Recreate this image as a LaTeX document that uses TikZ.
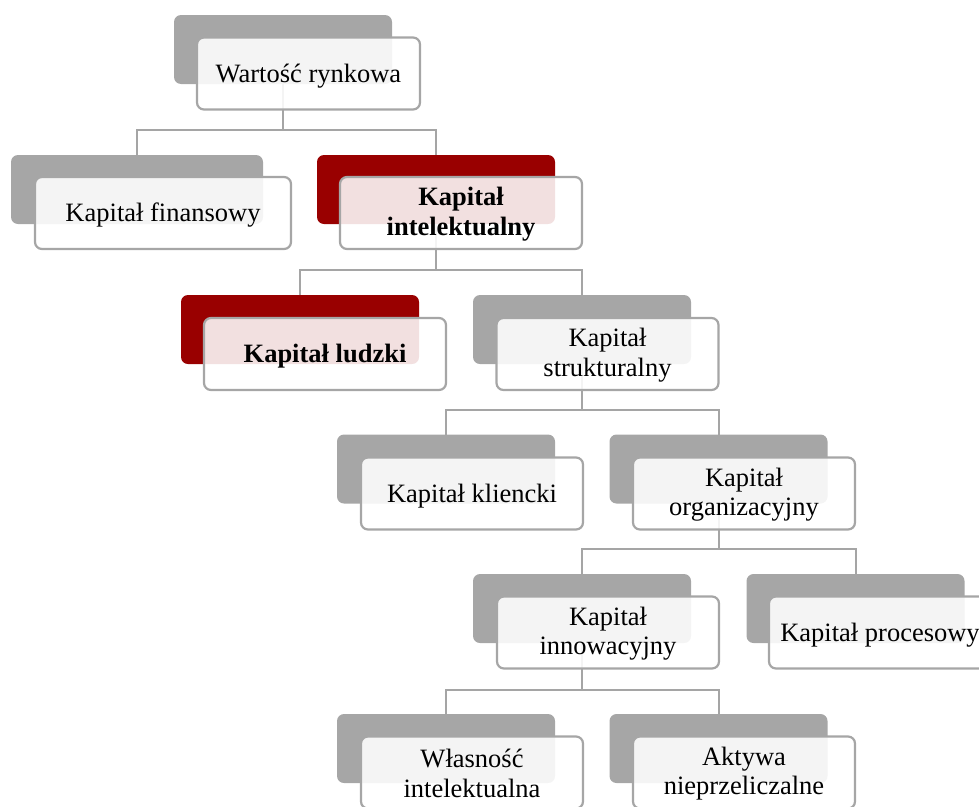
\documentclass[tikz,border=0pt]{standalone}
\usepackage{fontspec}
\setmainfont{Liberation Serif}
\definecolor{boxgray}{HTML}{A6A6A6}
\definecolor{boxred}{HTML}{990000}
\definecolor{linegray}{HTML}{A5A5A5}
\begin{document}
\begin{tikzpicture}[x=1pt,y=-1pt,
  backbox/.style={fill=boxgray, rounded corners=7pt, minimum width=218pt, minimum height=69pt, inner sep=0pt, outer sep=0pt},
  backred/.style={backbox, fill=boxred},
  frontbox/.style={draw=boxgray, line width=2.2pt, fill=white, fill opacity=0.88, rounded corners=7pt, minimum width=222pt, minimum height=72pt, inner sep=0pt, outer sep=0pt},
  boxtext/.style={align=center, inner sep=0pt, font=\fontsize{26.5}{29.5}\selectfont},
  conn/.style={draw=linegray, line width=2pt}]
\useasboundingbox (0,0) rectangle (979,806);
\clip (0,0) rectangle (979,806);
% back boxes
\node[backbox] (b1) at (283,49.5) {};
\node[backbox, minimum width=252pt] (b2) at (137,189.5) {};
\node[backred, minimum width=238pt] (b3) at (436,189.5) {};
\node[backred, minimum width=238pt] (b4) at (300,329.5) {};
\node[backbox] (b5) at (582,329.5) {};
\node[backbox] (b6) at (446,469) {};
\node[backbox] (b7) at (718.5,469) {};
\node[backbox] (b8) at (582,608.5) {};
\node[backbox] (b9) at (855.5,608.5) {};
\node[backbox] (b10) at (446,748.5) {};
\node[backbox] (b11) at (718.5,748.5) {};
% junctions
\coordinate (j1) at (283,130);
\coordinate (j2) at (436,270);
\coordinate (j3) at (582,410);
\coordinate (j4) at (718.5,549);
\coordinate (j5) at (582,690);
% connectors
\draw[conn] (b1.south) -- (j1);
\draw[conn] (b2.north) |- (j1) -| (b3.north);
\draw[conn] (b3.south) -- (j2);
\draw[conn] (b4.north) |- (j2) -| (b5.north);
\draw[conn] (b5.south) -- (j3);
\draw[conn] (b6.north) |- (j3) -| (b7.north);
\draw[conn] (b7.south) -- (j4);
\draw[conn] (b8.north) |- (j4) -| (b9.north);
\draw[conn] (b8.south) -- (j5);
\draw[conn] (b10.north) |- (j5) -| (b11.north);
% front boxes
\node[frontbox, minimum width=223pt] (f1) at (308.5,73.5) {};
\node[frontbox, minimum width=256pt] (f2) at (163,213) {};
\node[frontbox, minimum width=242pt] (f3) at (461,213) {};
\node[frontbox, minimum width=242pt] (f4) at (325,354) {};
\node[frontbox] (f5) at (607.5,354) {};
\node[frontbox] (f6) at (472,493.5) {};
\node[frontbox] (f7) at (744,493.5) {};
\node[frontbox] (f8) at (608,632.5) {};
\node[frontbox] (f9) at (880,632.5) {};
\node[frontbox] (f10) at (472,772.5) {};
\node[frontbox] (f11) at (744,772.5) {};
% texts
\node[boxtext] (t1) at ([yshift=-2.5pt]f1.center) {Wartość rynkowa};
\node[boxtext] (t2) at ([yshift=-2.5pt]f2.center) {Kapitał finansowy};
\node[boxtext] (t3) at ([yshift=-1pt]f3.center) {\textbf{Kapitał}\\\textbf{intelektualny}};
\node[boxtext] (t4) at ([yshift=-2.5pt]f4.center) {\textbf{Kapitał ludzki}};
\node[boxtext] (t5) at ([yshift=-1pt]f5.center) {Kapitał\\strukturalny};
\node[boxtext] (t6) at ([yshift=-2.5pt]f6.center) {Kapitał kliencki};
\node[boxtext] (t7) at ([yshift=-1pt]f7.center) {Kapitał\\organizacyjny};
\node[boxtext] (t8) at ([yshift=-1pt]f8.center) {Kapitał\\innowacyjny};
\node[boxtext] (t9) at ([yshift=-2.5pt]f9.center) {Kapitał procesowy};
\node[boxtext] (t10) at ([yshift=-1pt]f10.center) {Własność\\intelektualna};
\node[boxtext] (t11) at ([yshift=-1pt]f11.center) {Aktywa\\nieprzeliczalne};
\end{tikzpicture}
\end{document}
